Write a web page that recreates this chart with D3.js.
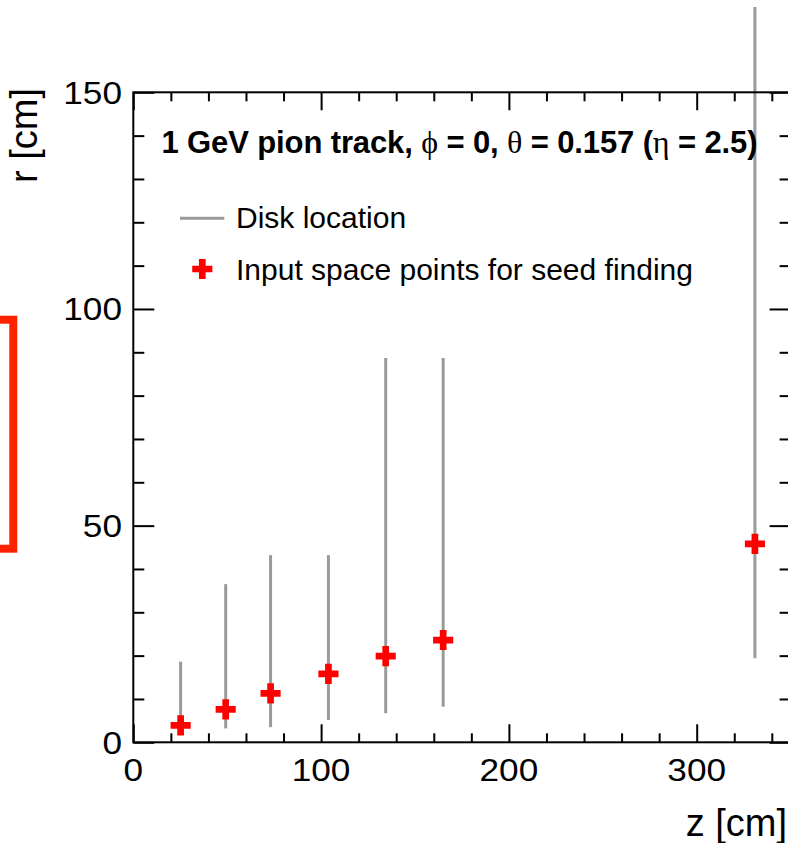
<!DOCTYPE html>
<html>
<head>
<meta charset="utf-8">
<script src="https://cdn.jsdelivr.net/npm/d3@7"></script>
<style>
  html, body { margin: 0; padding: 0; background: #fff; }
  svg { display: block; }
  text { font-family: "Liberation Sans", Arial, Helvetica, sans-serif; fill: #000; }
</style>
</head>
<body>
<svg id="chart" width="788" height="843"></svg>
<script>
// ---- data ----
const diskZ      = [25.2, 49.2, 73.1, 103.9, 134.4, 165.0, 331.0];   // disk z [cm]
const diskRmin   = [2.5, 3.2, 3.5, 5.15, 6.7, 8.2, 19.4];             // disk inner radius [cm]
const diskRmax   = [18.6, 36.5, 43.2, 43.2, 88.7, 88.7, 169.7];        // disk outer radius [cm]
const pointZ     = [25.2, 49.2, 73.1, 103.9, 134.4, 165.0, 331.0];    // space point z [cm]
const pointR     = [3.9, 7.6, 11.3, 15.8, 19.9, 23.6, 45.8];           // space point r [cm]
const xTicks     = [0, 100, 200, 300];
const yTicks     = [0, 50, 100, 150];
const legendLabels = ["Disk location", "Input space points for seed finding"];
const titleParts = [
  {t: "1 GeV pion track, ", g: false},
  {t: "\u03D5", g: true},
  {t: " = 0, ", g: false},
  {t: "\u03B8", g: true},
  {t: " = 0.157 (", g: false},
  {t: "\u03B7", g: true},
  {t: " = 2.5)", g: false}
];

(function () {
const svg = d3.select("#chart");
const pL = 133.3, pR = 790.6, pT = 92.3, pB = 742.3;

const x = d3.scaleLinear().domain([0, 350]).range([pL, pR]);
const y = d3.scaleLinear().domain([0, 150]).range([pB, pT]);

const DISK = "#9a9a9a", RED = "#ff0000";

// partial red box at the left edge (from the neighbouring panel)
svg.append("rect")
  .attr("x", -30).attr("y", 319.7)
  .attr("width", 43.3).attr("height", 229)
  .attr("fill", "none").attr("stroke", "#ff2200").attr("stroke-width", 8);

// ---- disk lines ----
const disks = diskZ.map((z, i) => ({z, r0: diskRmin[i], r1: diskRmax[i]}));
svg.append("g").selectAll("line").data(disks).join("line")
  .attr("x1", d => x(d.z)).attr("x2", d => x(d.z))
  .attr("y1", d => y(d.r0)).attr("y2", d => y(d.r1))
  .attr("stroke", DISK).attr("stroke-width", 3);

// ---- axes: ticks ----
const xMajor = d3.range(0, 351, 100);
const xMinor = d3.range(0, 351, 20).filter(v => v % 100 !== 0);
const yMajor = d3.range(0, 151, 50);
const yMinor = d3.range(0, 151, 10).filter(v => v % 50 !== 0);

function tickAxis(axisGen, tx, ty, vals, len) {
  const g = svg.append("g").attr("transform", `translate(${tx},${ty})`)
    .call(axisGen.tickValues(vals).tickSize(len).tickSizeOuter(0).tickFormat(""));
  g.select(".domain").remove();
  g.selectAll(".tick line").attr("stroke", "#000").attr("stroke-width", 2);
  return g;
}
tickAxis(d3.axisTop(x), 0, pB, xMajor, 18);
tickAxis(d3.axisTop(x), 0, pB, xMinor, 9);
tickAxis(d3.axisBottom(x), 0, pT, xMajor, 18);
tickAxis(d3.axisBottom(x), 0, pT, xMinor, 9);
tickAxis(d3.axisRight(y), pL, 0, yMajor, 21);
tickAxis(d3.axisRight(y), pL, 0, yMinor, 11);
tickAxis(d3.axisLeft(y), pR, 0, yMajor, 21);
tickAxis(d3.axisLeft(y), pR, 0, yMinor, 11);

// frame
svg.append("rect")
  .attr("x", pL).attr("y", pT)
  .attr("width", pR - pL).attr("height", pB - pT)
  .attr("fill", "none").attr("stroke", "#000").attr("stroke-width", 2);

// tick labels
svg.append("g").selectAll("text").data(xTicks).join("text")
  .attr("x", d => x(d)).attr("y", 781)
  .attr("text-anchor", "middle")
  .attr("font-size", 32)
  .attr("transform", d => `translate(${x(d)},0) scale(1.1,1) translate(${-x(d)},0)`)
  .text(d => d);
svg.append("g").selectAll("text").data(yTicks).join("text")
  .attr("x", 122).attr("y", d => y(d) + 11.5)
  .attr("text-anchor", "end")
  .attr("font-size", 32)
  .attr("transform", `translate(122,0) scale(1.1,1) translate(-122,0)`)
  .text(d => d);

// axis titles
svg.append("text")
  .attr("x", 787).attr("y", 836)
  .attr("text-anchor", "end")
  .attr("font-size", 38)
  .text("z [cm]");
svg.append("text")
  .attr("transform", "translate(37,88) rotate(-90)")
  .attr("text-anchor", "end")
  .attr("font-size", 38)
  .text("r [cm]");

// ---- space points ----
const pts = pointZ.map((z, i) => ({z, r: pointR[i]}));
const cross = d3.symbol().type(d3.symbolCross).size(225);
svg.append("g").selectAll("path").data(pts).join("path")
  .attr("transform", d => `translate(${x(d.z)},${y(d.r)})`)
  .attr("d", cross)
  .attr("fill", RED);

// ---- title ----
const title = svg.append("text")
  .attr("x", 161.5).attr("y", 153.3)
  .attr("font-size", 31)
  .attr("font-weight", "bold")
  .attr("textLength", 596)
  .attr("lengthAdjust", "spacing")
  .style("white-space", "pre");
title.selectAll("tspan").data(titleParts).join("tspan")
  .attr("font-family", d => d.g ? "'Liberation Serif', 'DejaVu Serif', serif" : null)
  .attr("font-weight", d => d.g ? "normal" : "bold")
  .attr("font-size", d => d.g ? 32 : 31)
  .text(d => d.t);

// ---- legend ----
const lg = svg.append("g");
lg.append("line")
  .attr("x1", 180).attr("x2", 224.3).attr("y1", 218.3).attr("y2", 218.3)
  .attr("stroke", DISK).attr("stroke-width", 3);
lg.append("path")
  .attr("transform", "translate(202.3,269)")
  .attr("d", cross).attr("fill", RED);
lg.selectAll("text").data(legendLabels).join("text")
  .attr("x", 236).attr("y", (d, i) => [228.3, 280][i])
  .attr("font-size", 30)
  .text(d => d);
})();
</script>
</body>
</html>
